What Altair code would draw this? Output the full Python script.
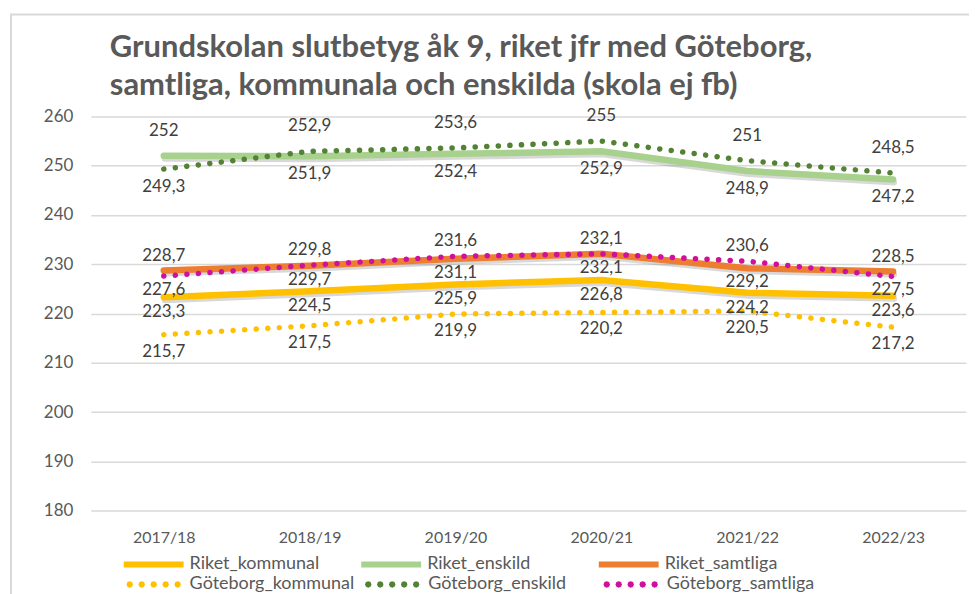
import math
import altair as alt
import pandas as pd

categories = ["2017/18", "2018/19", "2019/20", "2020/21", "2021/22", "2022/23"]

riket_names = ["Riket_kommunal", "Riket_enskild", "Riket_samtliga"]
gbg_names = ["Göteborg_kommunal", "Göteborg_enskild", "Göteborg_samtliga"]

riket_kommunal = [223.3, 224.5, 225.9, 226.8, 224.2, 223.6]
riket_enskild = [252.0, 251.9, 252.4, 252.9, 248.9, 247.2]
riket_samtliga = [228.7, 229.7, 231.1, 232.1, 229.2, 228.5]
goteborg_kommunal = [215.7, 217.5, 219.9, 220.2, 220.5, 217.2]
goteborg_enskild = [249.3, 252.9, 253.6, 255.0, 251.0, 248.5]
goteborg_samtliga = [227.6, 229.8, 231.6, 232.1, 230.6, 227.5]

riket_values = [riket_kommunal, riket_enskild, riket_samtliga]
gbg_values = [goteborg_kommunal, goteborg_enskild, goteborg_samtliga]

riket_colors = ["#FFC000", "#A9D18E", "#ED7D31"]
gbg_colors = ["#FFC000", "#548235", "#D0109C"]

title_lines = ["Grundskolan slutbetyg åk 9, riket jfr med Göteborg,",
               "samtliga, kommunala och enskilda (skola ej fb)"]

FONT = "Lato"
W, H = 877, 395


def fmt(v):
    return f"{v:g}".replace(".", ",")


rows = []
for k, kind in enumerate(["kommunal", "enskild", "samtliga"]):
    for i, c in enumerate(categories):
        r = riket_values[k][i]
        g = gbg_values[k][i]
        if kind == "kommunal":
            pr, pg = "komm_r", "komm_g"
        else:
            up_r = r > g
            pr = kind + ("_up" if up_r else "_down")
            pg = kind + ("_down" if up_r else "_up")
        rows.append({"category": c, "series": riket_names[k], "value": r,
                     "label": fmt(r), "kind": "solid", "pos": pr})
        rows.append({"category": c, "series": gbg_names[k], "value": g,
                     "label": fmt(g), "kind": "dotted", "pos": pg})
df = pd.DataFrame(rows)

dy_by_pos = {"enskild_up": -25, "enskild_down": 18, "samtliga_up": -15,
             "samtliga_down": 14, "komm_r": 15, "komm_g": 17}

x_enc = alt.X("category:N", sort=categories, title=None,
              scale=alt.Scale(paddingOuter=0.5),
              axis=alt.Axis(labelAngle=0, domain=False, ticks=False,
                            labelFont=FONT, labelFontSize=16,
                            labelColor="#595959", labelPadding=19, grid=False))
y_enc = alt.Y("value:Q", title=None,
              scale=alt.Scale(domain=[180, 260], nice=False, zero=False),
              axis=alt.Axis(values=list(range(180, 261, 10)), domain=False,
                            ticks=False, labelFont=FONT, labelFontSize=17,
                            labelColor="#595959", labelPadding=18,
                            grid=True, gridColor="#D9D9D9", gridWidth=1.5))


# five small round dots (tiny octagons, widened by the stroke) in the unit
# box that custom legend symbols use
def octagon(cx, r=0.01):
    pts = [(cx + r * math.cos(math.radians(a)), r * math.sin(math.radians(a)))
           for a in range(0, 360, 45)]
    return "M" + "L".join(f"{x:.4f},{y:.4f}" for x, y in pts) + "Z"


dot_path = "".join(octagon(cx) for cx in (-0.8, -0.4, 0.0, 0.4, 0.8))

common_legend = dict(title=None, orient="none", columns=3, symbolSize=3600,
                     labelFont=FONT, labelFontSize=18, labelColor="#595959",
                     clipHeight=20, rowPadding=0, labelOffset=3,
                     gridAlign="all", labelLimit=300)

legend_riket = alt.Legend(legendX=30, legendY=439, symbolType="stroke",
                          symbolStrokeWidth=6, columnPadding=39,
                          **common_legend)
legend_gbg = alt.Legend(legendX=30, legendY=459, symbolType=dot_path,
                        symbolStrokeWidth=5.5, symbolDash=[1, 0],
                        columnPadding=5, **common_legend)

base = alt.Chart(df)
one = alt.Chart(pd.DataFrame({"a": [0]}))

frame = one.mark_rect(
    fillOpacity=0, stroke="#D9D9D9", strokeWidth=2
).encode(x=alt.value(-80), x2=alt.value(W + 40),
         y=alt.value(-102), y2=alt.value(H + 120))

title_layers = [
    one.mark_text(text=line, font=FONT, fontSize=31, fontWeight="bold",
                  color="#595959", align="left", baseline="alphabetic")
    .encode(x=alt.value(19), y=alt.value(yv))
    for line, yv in zip(title_lines, (-60, -21))
]

shadow = base.transform_filter(alt.datum.kind == "solid").mark_line(
    strokeWidth=6, color="#7F7F7F", opacity=0.3, xOffset=1, yOffset=3,
    strokeCap="round"
).encode(x=x_enc, y=y_enc, detail="series:N")

solid = base.transform_filter(alt.datum.kind == "solid").mark_line(
    strokeWidth=6.5, strokeCap="round"
).encode(x=x_enc, y=y_enc,
         color=alt.Color("series:N", sort=riket_names,
                         scale=alt.Scale(domain=riket_names,
                                         range=riket_colors),
                         legend=legend_riket))

dotted = base.transform_filter(alt.datum.kind == "dotted").mark_line(
    strokeWidth=5.5, strokeCap="round", strokeDash=[0.1, 11.5]
).encode(x=x_enc, y=y_enc,
         color=alt.Color("series:N", sort=gbg_names,
                         scale=alt.Scale(domain=gbg_names, range=gbg_colors),
                         legend=legend_gbg))

label_layers = []
for p, dy in dy_by_pos.items():
    label_layers.append(
        base.transform_filter(alt.datum.pos == p).mark_text(
            font=FONT, fontSize=17, color="#404040", dy=dy, baseline="middle"
        ).encode(x=x_enc, y=y_enc, text="label:N")
    )

chart = alt.layer(frame, *title_layers, shadow, solid, dotted,
                  *label_layers).resolve_scale(
    color="independent"
).properties(
    width=W, height=H,
    autosize=alt.AutoSizeParams(type="none"),
    padding={"left": 83, "top": 108, "right": 3, "bottom": 86},
).configure_view(stroke=None)

chart.save("out.html", embed_options={"renderer": "svg", "actions": False})
